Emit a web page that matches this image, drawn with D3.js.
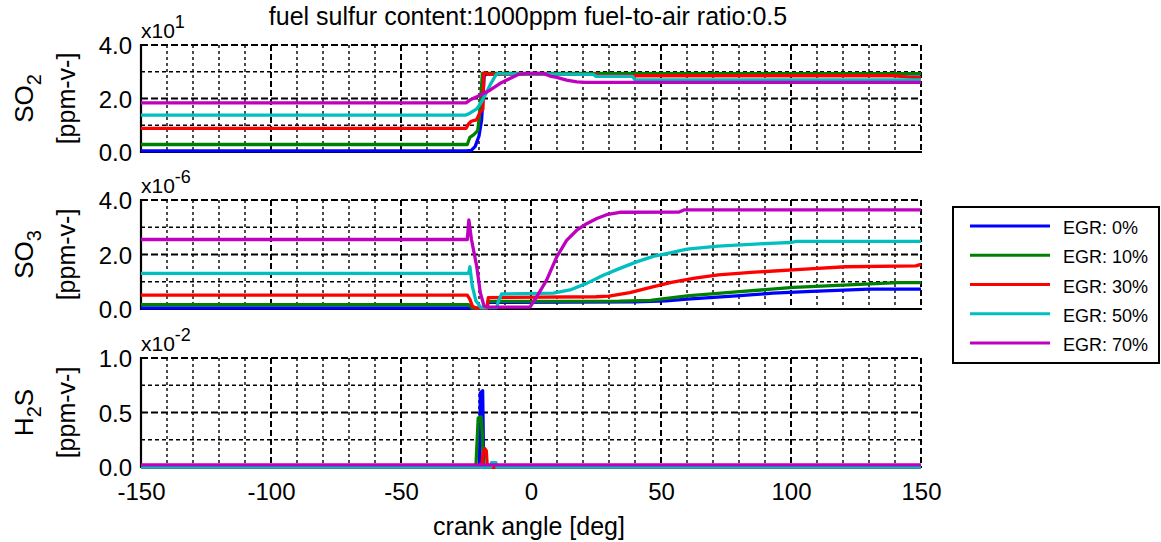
<!DOCTYPE html>
<html>
<head>
<meta charset="utf-8">
<script src="https://cdn.jsdelivr.net/npm/d3@7/dist/d3.min.js"></script>
<style>
  body { margin: 0; background: #fff; }
  svg { font-family: "Liberation Sans", Arial, sans-serif; }
</style>
</head>
<body>
<div id="chart"></div>
<script>
// EGR cases
var egrLabels = ["EGR: 0%", "EGR: 10%", "EGR: 30%", "EGR: 50%", "EGR: 70%"];
var egrColors = ["#0000ff", "#008000", "#ff0000", "#00bfbf", "#bf00bf"];

var angleTicks = [-150, -100, -50, 0, 50, 100, 150];
var panelExponents = ["1", "-6", "-2"];

// SO2 [ppm-v-], x10^1, as [crank angle, value]
var so2Egr0 = [[-150,0.04],[-25,0.04],[-23,0.06],[-21.5,0.2],[-20,0.6],[-19,1.2],[-18.5,2.0],[-18,2.85],[-17,2.92],[150,2.92]];
var so2Egr10 = [[-150,0.28],[-24.5,0.28],[-23.5,0.55],[-22,0.65],[-20.5,0.8],[-20,1.2],[-19.2,2.2],[-18.7,2.94],[150,2.93]];
var so2Egr30 = [[-150,0.88],[-25,0.88],[-24,1.05],[-23,1.15],[-21,1.2],[-19.5,1.5],[-18.5,1.6],[-18.2,2.95],[-17.5,2.96],[-16.5,2.9],[25,2.9],[26,2.85],[140,2.85],[145,2.8],[150,2.78]];
var so2Egr50 = [[-150,1.38],[-25,1.38],[-23.5,1.45],[-21,1.6],[-19.5,1.8],[-17.5,2.15],[-15.5,2.55],[-13.5,2.88],[-12.5,2.94],[-11,2.92],[24,2.9],[25,2.83],[39,2.83],[40,2.7],[150,2.7]];
var so2Egr70 = [[-150,1.84],[-25,1.84],[-23.5,1.94],[-19.6,2.12],[-15.8,2.31],[-12,2.56],[-8.1,2.75],[-4.9,2.9],[-1.7,2.94],[4.7,2.94],[7.3,2.84],[9.9,2.79],[13.7,2.69],[17.6,2.62],[21,2.6],[150,2.6]];

// SO3 [ppm-v-], x10^-6
var so3Egr0 = [[-150,0.04],[-24,0.04],[-22,0.02],[-17,0.02],[-16.5,0.24],[40,0.26],[52,0.30],[60,0.36],[79,0.48],[93,0.58],[108,0.65],[130,0.73],[150,0.73]];
var so3Egr10 = [[-150,0.16],[-24,0.16],[-22.5,0.03],[-17,0.03],[-16.5,0.28],[34,0.29],[46,0.32],[60,0.48],[79,0.63],[101,0.79],[118,0.87],[141,0.97],[150,0.97]];
var so3Egr30 = [[-150,0.51],[-24.5,0.51],[-23.5,0.35],[-22.5,0.1],[-21,0.03],[-17,0.03],[-16.4,0.42],[25,0.45],[30,0.47],[38,0.6],[46,0.79],[54,0.98],[63,1.13],[72,1.25],[86,1.35],[107,1.47],[121,1.55],[148,1.58],[150,1.64]];
var so3Egr50 = [[-150,1.31],[-24,1.31],[-23.5,1.55],[-22.6,0.85],[-21.2,0.3],[-19.2,0.05],[-13.2,0.05],[-12.6,0.27],[-11.3,0.55],[8.6,0.58],[15,0.7],[21.4,0.94],[27.8,1.24],[34.2,1.49],[40.6,1.73],[47,1.93],[53.5,2.06],[60,2.2],[72,2.31],[94,2.42],[100,2.44],[102,2.48],[150,2.48]];
var so3Egr70 = [[-150,2.55],[-24.5,2.55],[-23.9,3.27],[-22.9,2.55],[-20.9,1.58],[-19.5,0.6],[-18.1,0.12],[-17,0.07],[-0.4,0.07],[2.2,0.45],[6,1.06],[9.9,1.91],[13.7,2.52],[17.6,2.89],[21.4,3.13],[25.3,3.32],[29.1,3.46],[34.2,3.55],[57,3.56],[59,3.64],[150,3.64]];

// H2S [ppm-v-], x10^-2
var h2sEgr0 = [[-150,0],[-19.8,0],[-19.5,0.68],[-18.6,0.70],[-18.2,0],[150,0]];
var h2sEgr10 = [[-150,0],[-21.2,0],[-20.3,0.45],[-19.2,0.46],[-18.7,0.3],[-18.3,0],[150,0]];
var h2sEgr30 = [[-150,0],[-19,0],[-18.5,0.12],[-17.8,0.17],[-17.2,0.15],[-16.8,0],[150,0]];
var h2sEgr50 = [[-150,0],[-15.5,0],[-15.2,0.04],[-13.5,0.04],[-13.2,0],[150,0]];
var h2sEgr70 = [[-150,0.02],[150,0.02]];

var width = 1161, height = 542;

var svg = d3.select("#chart").append("svg")
    .attr("width", width)
    .attr("height", height);

var x = d3.scaleLinear().domain([-150, 150]).range([141, 921]);

var panels = [
    { label: ["SO", "2", ""], top: 45, bottom: 152, max: 4, major: 2, minor: 1,
      series: [so2Egr0, so2Egr10, so2Egr30, so2Egr50, so2Egr70] },
    { label: ["SO", "3", ""], top: 200, bottom: 309, max: 4, major: 2, minor: 1,
      series: [so3Egr0, so3Egr10, so3Egr30, so3Egr50, so3Egr70] },
    { label: ["H", "2", "S"], top: 358, bottom: 467, max: 1, major: 0.5, minor: 0.25,
      series: [h2sEgr0, h2sEgr10, h2sEgr30, h2sEgr50, h2sEgr70] }
];

svg.append("text")
    .attr("x", 528)
    .attr("y", 25)
    .attr("text-anchor", "middle")
    .style("font-size", "25px")
    .text("fuel sulfur content:1000ppm fuel-to-air ratio:0.5");

panels.forEach(function(p, i) {
    var y = d3.scaleLinear().domain([0, p.max]).range([p.bottom, p.top]);
    var g = svg.append("g");

    // vertical grid every 10 deg, dashed heavier every 50 deg
    d3.range(-140, 151, 10).forEach(function(a) {
        var major = a % 50 === 0;
        g.append("line")
            .attr("x1", x(a)).attr("x2", x(a))
            .attr("y1", p.top).attr("y2", p.bottom)
            .attr("stroke", "#000")
            .attr("stroke-width", major ? 2 : 1.4)
            .attr("stroke-dasharray", major ? "6,3" : "3,3");
    });
    // horizontal grid
    d3.range(p.minor, p.max + p.minor / 2, p.minor).forEach(function(v) {
        var major = Math.abs(v / p.major - Math.round(v / p.major)) < 1e-6;
        g.append("line")
            .attr("x1", x(-150)).attr("x2", x(150))
            .attr("y1", y(v)).attr("y2", y(v))
            .attr("stroke", "#000")
            .attr("stroke-width", major ? 2 : 1.4)
            .attr("stroke-dasharray", major ? "7,3" : "4,3");
    });

    // solid left and bottom axes
    g.append("line")
        .attr("x1", x(-150)).attr("x2", x(-150))
        .attr("y1", p.top - 1).attr("y2", p.bottom + 1)
        .attr("stroke", "#000").attr("stroke-width", 2.2);
    g.append("line")
        .attr("x1", x(-150) - 1).attr("x2", x(150) + 1)
        .attr("y1", p.bottom).attr("y2", p.bottom)
        .attr("stroke", "#000").attr("stroke-width", 2.2);

    // y tick labels
    var yAxis = d3.axisLeft(y)
        .tickValues(d3.range(0, p.max + p.major / 2, p.major))
        .tickSize(0)
        .tickPadding(9)
        .tickFormat(function(d) { return d.toFixed(1); });
    var ya = g.append("g")
        .attr("transform", "translate(" + x(-150) + ",1)")
        .call(yAxis);
    ya.select(".domain").remove();
    ya.selectAll("text").style("font-size", "24px").attr("fill", "#000");

    // exponent
    var ex = g.append("text")
        .attr("x", x(-150))
        .attr("y", p.top - 7)
        .style("font-size", "21px");
    ex.append("tspan").text("x10");
    ex.append("tspan").attr("dy", -10).style("font-size", "18px").text(panelExponents[i]);

    // y label
    var yl = g.append("text")
        .attr("transform", "translate(33," + (p.top + p.bottom) / 2 + ")rotate(-90)")
        .attr("text-anchor", "middle")
        .style("font-size", "26px");
    yl.append("tspan").text(p.label[0]);
    yl.append("tspan").attr("dy", 8).style("font-size", "20px").text(p.label[1]);
    if (p.label[2]) yl.append("tspan").attr("dy", -8).text(p.label[2]);

    g.append("text")
        .attr("transform", "translate(75," + (p.top + p.bottom) / 2 + ")rotate(-90)")
        .attr("text-anchor", "middle")
        .style("font-size", "25px")
        .text("[ppm-v-]");

    var line = d3.line()
        .x(function(d) { return x(d[0]); })
        .y(function(d) { return y(d[1]); });

    g.selectAll("path.series")
        .data(p.series)
        .enter().append("path")
        .attr("class", "series")
        .attr("d", line)
        .attr("fill", "none")
        .attr("stroke", function(d, j) { return egrColors[j]; })
        .attr("stroke-width", 3.3)
        .attr("stroke-linejoin", "round");

    if (i === panels.length - 1) {
        var xAxis = d3.axisBottom(x)
            .tickValues(angleTicks)
            .tickSize(0)
            .tickPadding(16)
            .tickFormat(function(d) { return String(d); });
        var xa = svg.append("g")
            .attr("transform", "translate(0," + p.bottom + ")")
            .call(xAxis);
        xa.select(".domain").remove();
        xa.selectAll("text").style("font-size", "24px").attr("fill", "#000");
    }
});

svg.append("text")
    .attr("x", 529)
    .attr("y", 535)
    .attr("text-anchor", "middle")
    .style("font-size", "25px")
    .text("crank angle [deg]");

// legend
var legend = svg.append("g");
legend.append("rect")
    .attr("x", 953).attr("y", 207)
    .attr("width", 206).attr("height", 156)
    .attr("fill", "#fff")
    .attr("stroke", "#000")
    .attr("stroke-width", 2);

var legendY = d3.scalePoint().domain(egrLabels).range([226, 343]);
egrLabels.forEach(function(lbl, j) {
    legend.append("line")
        .attr("x1", 970).attr("x2", 1050)
        .attr("y1", legendY(lbl)).attr("y2", legendY(lbl))
        .attr("stroke", egrColors[j])
        .attr("stroke-width", 3);
    legend.append("text")
        .attr("x", 1063)
        .attr("y", legendY(lbl) + 2)
        .attr("dominant-baseline", "central")
        .style("font-size", "18px")
        .text(lbl);
});
</script>
</body>
</html>
